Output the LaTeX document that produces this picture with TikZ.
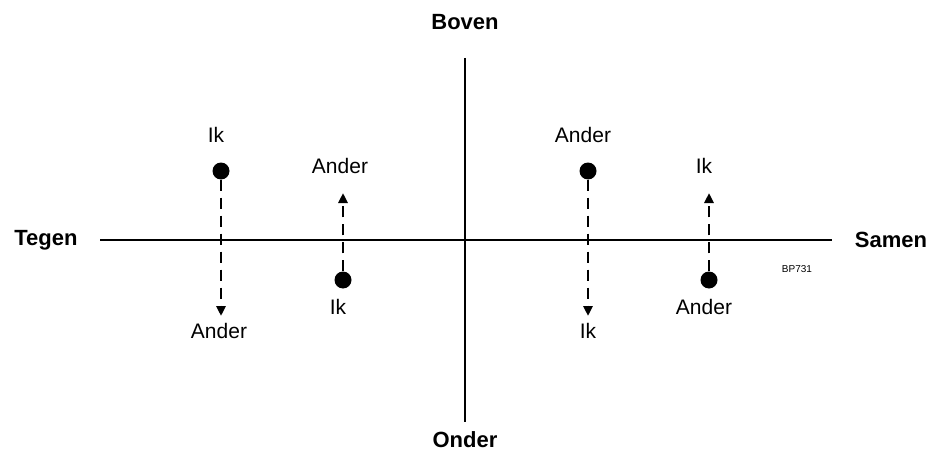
\documentclass[tikz,border=0pt]{standalone}
\usepackage{fontspec}
\setmainfont{Liberation Sans}
\usetikzlibrary{arrows.meta}
\begin{document}
\begin{tikzpicture}[x=1pt,y=-1pt,
  axis/.style={line width=1.6pt},
  dot/.style={circle,fill=black,inner sep=0pt,minimum size=17pt},
  move/.style={line width=2.8pt,dash pattern=on 11pt off 7pt,-{Triangle[length=10pt,width=9pt]}},
  lbl/.style={font=\fontsize{21}{24}\selectfont,inner sep=0pt},
  pole/.style={font=\fontsize{22}{26}\selectfont\bfseries,inner sep=0pt},
  code/.style={font=\fontsize{10}{12}\selectfont,inner sep=0pt}]
\useasboundingbox (0,0) rectangle (930,460);
% axes
\coordinate (xl) at (100,240);
\coordinate (xr) at (832,240);
\coordinate (yt) at (465,58);
\coordinate (yb) at (465,422);
\draw[axis] (xl) -- (xr);
\draw[axis] (yt) -- (yb);
% pole labels
\node[pole] (boven) at (465,22) {Boven};
\node[pole] (onder) at (465,440) {Onder};
\node[pole] (tegen) at (46,240) {Tegen};
\node[pole] (samen) at (891,240) {Samen};
\node[code] (bp) at (797,269) {BP731};
% quadrant: tegen / boven
\node[dot] (d1) at (221,171) {};
\coordinate (t1) at (221,316);
\draw[move] (d1) -- (t1);
\node[lbl] (d1top) at (216,135) {Ik};
\node[lbl] (d1bot) at (219,331) {Ander};
% quadrant: tegen / onder
\node[dot] (d2) at (343,280) {};
\coordinate (t2) at (343,193);
\draw[move] (d2) -- (t2);
\node[lbl] (d2top) at (340,166) {Ander};
\node[lbl] (d2bot) at (338,307) {Ik};
% quadrant: samen / boven
\node[dot] (d3) at (588,171) {};
\coordinate (t3) at (588,316);
\draw[move] (d3) -- (t3);
\node[lbl] (d3top) at (583,135) {Ander};
\node[lbl] (d3bot) at (588,331) {Ik};
% quadrant: samen / onder
\node[dot] (d4) at (709,280) {};
\coordinate (t4) at (709,193);
\draw[move] (d4) -- (t4);
\node[lbl] (d4top) at (704,166) {Ik};
\node[lbl] (d4bot) at (704,307) {Ander};
\end{tikzpicture}
\end{document}
